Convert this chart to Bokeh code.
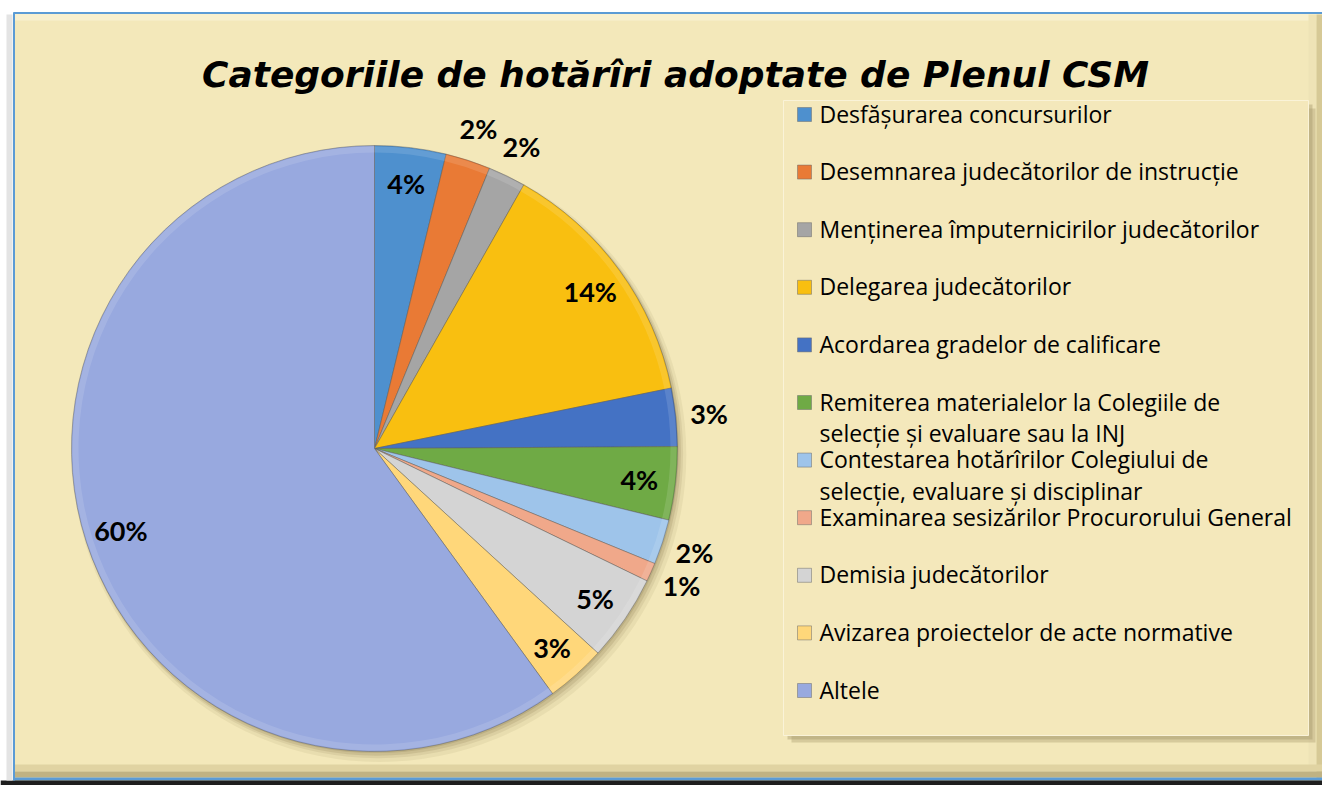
import numpy as np
from bokeh.plotting import figure
from bokeh.models import Range1d
from bokeh.core.properties import value
from bokeh.embed import file_html
from bokeh.resources import INLINE

# ---------------- data ----------------
title = "Categoriile de hotărîri adoptate de Plenul CSM"
categories = [
    "Desfășurarea concursurilor",
    "Desemnarea judecătorilor de instrucție",
    "Menținerea împuternicirilor judecătorilor",
    "Delegarea judecătorilor",
    "Acordarea gradelor de calificare",
    "Remiterea materialelor la Colegiile de\nselecție și evaluare sau la INJ",
    "Contestarea hotărîrilor Colegiului de\nselecție, evaluare și disciplinar",
    "Examinarea sesizărilor Procurorului General",
    "Demisia judecătorilor",
    "Avizarea proiectelor de acte normative",
    "Altele",
]
shares = [3.8, 2.4, 2.0, 13.6, 3.1, 3.9, 2.4, 1.0, 4.6, 3.2, 60.0]
colors = ["#4E90CE", "#E97A35", "#A5A5A5", "#F9BF10", "#4472C4", "#6FAA45",
          "#9EC4EA", "#F0A88A", "#D4D4D4", "#FFD77A", "#98A9DF"]
label_outside = [False, True, True, False, True, False, True, True, False, False, False]

# ---------------- layout helpers (screen px -> data) ----------------
W, H = 1322, 785
def X(sx):
    return sx
def Y(sy):
    return H - sy

p = figure(width=W, height=H, output_backend="svg", toolbar_location=None,
           x_range=Range1d(0, W), y_range=Range1d(0, H),
           min_border=0, outline_line_color=None,
           background_fill_color="white", border_fill_color="white")
p.axis.visible = False
p.grid.visible = False

BG = "#F3E8BA"
# outer frame
p.quad(left=[X(13)], right=[W], top=[Y(12)], bottom=[0], fill_color=BG, line_color=None)
p.quad(left=[X(13)], right=[W], top=[Y(13)], bottom=[Y(20)], fill_color="#F8F0CF", line_color=None)
p.quad(left=[X(1308)], right=[X(1316)], top=[Y(14)], bottom=[Y(778)], fill_color="#EEE3B6", line_color=None)
p.quad(left=[X(1316)], right=[W], top=[Y(14)], bottom=[Y(778)], fill_color="#D6C996", line_color=None)
p.quad(left=[X(13)], right=[W], top=[Y(764)], bottom=[Y(771)], fill_color="#E0D3A2", line_color=None)
p.quad(left=[X(13)], right=[W], top=[Y(771)], bottom=[Y(777)], fill_color="#BFB283", line_color=None)
p.quad(left=[X(13)], right=[W], top=[Y(777)], bottom=[Y(780)], fill_color="#5B9BD5", line_color=None)
p.quad(left=[0], right=[W], top=[Y(780)], bottom=[0], fill_color="#1E1E1E", line_color=None)
p.quad(left=[X(6)], right=[X(12)], top=[Y(14)], bottom=[Y(780)], fill_color="#E4E4E4", line_color=None)
p.line(x=[X(13), W], y=[Y(12.5), Y(12.5)], line_color="#5B9BD5", line_width=2)
p.line(x=[X(13.5), X(13.5)], y=[Y(12), Y(780)], line_color="#5B9BD5", line_width=2)

# title
p.text(x=[X(675)], y=[Y(74)], text=[title], text_font=value("DejaVu Sans"),
       text_font_style="bold italic", text_font_size="36px", text_color="black",
       text_align="center", text_baseline="alphabetic")

# ---------------- pie ----------------
cx, cy, R = X(374), Y(448), 303
vals = np.array(shares, dtype=float)
frac = vals / vals.sum()
cum = np.concatenate([[0.0], np.cumsum(frac)])
start = np.pi / 2 - 2 * np.pi * cum[:-1]
end = np.pi / 2 - 2 * np.pi * cum[1:]

# soft shadow
for off, rr, a in [(8, R + 4, 0.10), (6, R + 2, 0.14), (4, R + 1, 0.2), (2, R, 0.25)]:
    p.scatter(x=[cx + off * 0.6], y=[cy - off * 0.8], size=2 * rr, marker="circle",
              fill_color="#8C7E52", fill_alpha=a, line_color=None)

p.wedge(x=cx, y=cy, radius=R, start_angle=start, end_angle=end, direction="clock",
        fill_color=colors, line_color="#5A5A5A", line_alpha=0.45, line_width=1)
# subtle bevel highlight
p.annular_wedge(x=cx, y=cy, inner_radius=R - 7, outer_radius=R - 1, start_angle=start,
                end_angle=end, direction="clock", fill_color="white", fill_alpha=0.12,
                line_color=None)

# percentage labels
mid = (start + end) / 2
rad = np.where(label_outside, 1.11 * R, 0.88 * R)
lx = cx + rad * np.cos(mid)
ly = cy + rad * np.sin(mid)
labels = [f"{round(v)}%" for v in vals / vals.sum() * 100]
p.text(x=lx, y=ly, text=labels, text_font=value("Lato"), text_font_style="bold",
       text_font_size="27px", text_color="black", text_align="center",
       text_baseline="middle")

# ---------------- legend ----------------
lx0, lx1, ly0, ly1 = X(783), X(1308), Y(100), Y(735)
p.quad(left=[lx0 + 8], right=[lx1 + 7], top=[ly0 - 8], bottom=[ly1 - 7],
       fill_color="#B9AC7E", fill_alpha=0.5, line_color=None)
p.quad(left=[lx0 + 4], right=[lx1 + 4], top=[ly0 - 4], bottom=[ly1 - 4],
       fill_color="#A99C6E", fill_alpha=0.45, line_color=None)
p.quad(left=[lx0], right=[lx1], top=[ly0], bottom=[ly1],
       fill_color="#F4E8BB", line_color="#FAF3D8", line_width=1)

row0, step = 113, 57.6
tx, ty, tt = [], [], []
mx, my = [], []
for i, cat in enumerate(categories):
    sy = row0 + i * step
    mx.append(X(804))
    my.append(Y(sy + 1))
    for j, line in enumerate(cat.split("\n")):
        tx.append(X(819))
        ty.append(Y(sy + j * 31.5))
        tt.append(line)
p.scatter(x=mx, y=my, marker="square", size=14, fill_color=colors,
          line_color="#6B6B6B", line_alpha=0.5, line_width=1)
p.text(x=tx, y=ty, text=tt, text_font=value("Open Sans"), text_font_size="23px",
       text_color="black", text_align="left", text_baseline="middle")

open("out.html", "w").write(file_html(p, INLINE))
